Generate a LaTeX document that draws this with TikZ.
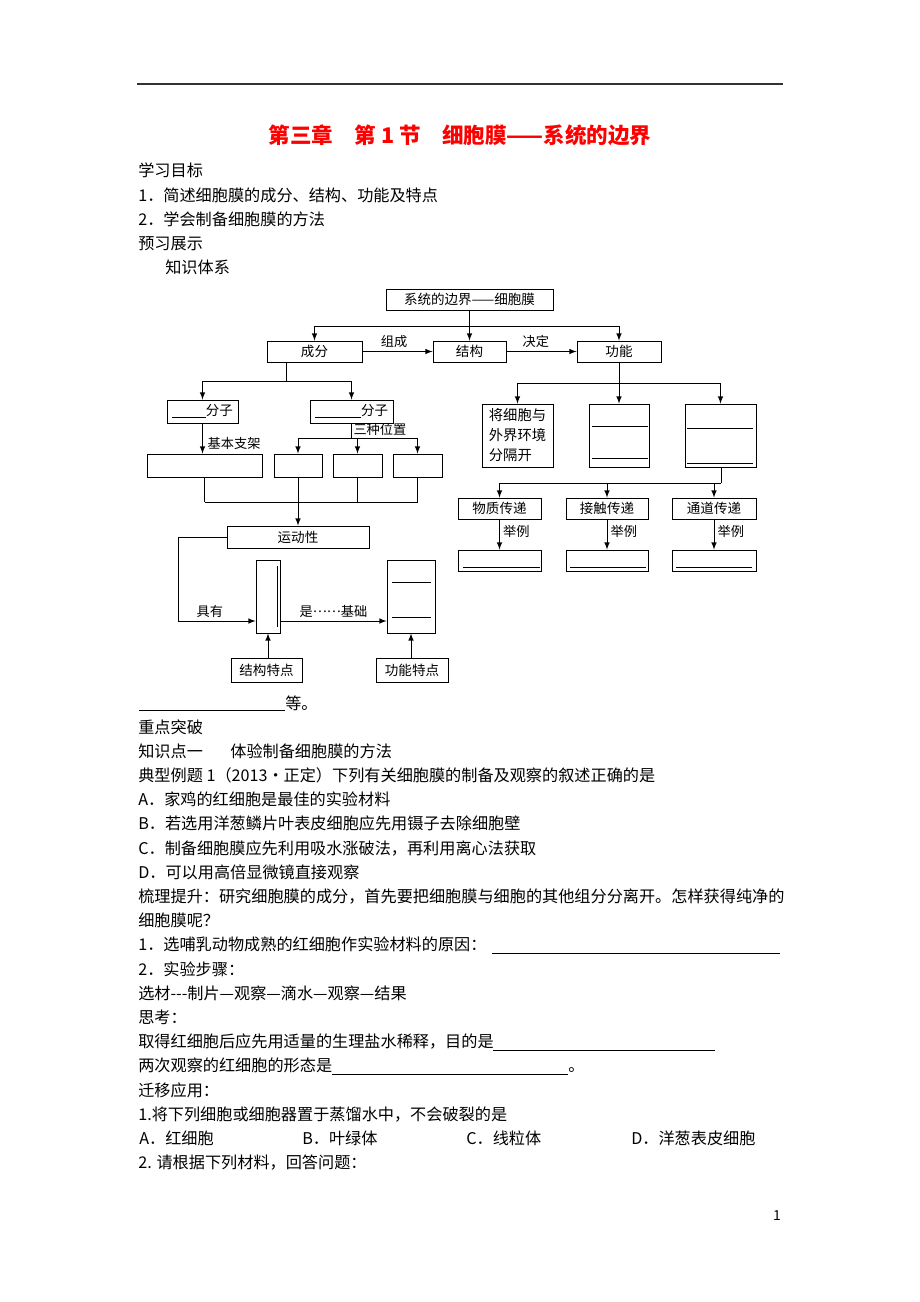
\documentclass[tikz,border=0pt]{standalone}
\usepackage{fontspec}
\setmainfont{Noto Sans CJK SC}
\usepackage{tikz}
\usetikzlibrary{arrows.meta,arrows}
\usetikzlibrary{positioning}

\def\pxu{0.65pt}
\tikzset{
  bx/.style n args={2}{draw, line width=0.6pt, inner sep=0pt,
    minimum width=#1*\pxu, minimum height=#2*\pxu,
    font=\fontsize{8.8}{10}\selectfont},
  ln/.style={line width=0.6pt},
  arr/.style={ln, arrows=-latex},
  txt/.style={anchor=base west, inner sep=0pt, font=\fontsize{10.5}{12}\selectfont},
  lbl/.style={inner sep=1pt, font=\fontsize{8.6}{10}\selectfont},
}

\begin{document}
\begin{tikzpicture}[x=0.65pt, y=-0.65pt]

% page
\useasboundingbox[fill=white] (0,0) rectangle (920,1302);

% header rule and title
\draw[line width=1pt, black!80] (137,84) -- (783,84);
\node[font=\fontsize{14}{16}\selectfont\bfseries, text=red] (title) at (460,135)
  {第三章　第 1 节　细胞膜——系统的边界};

\def \xL {138}

% aims
\node[txt] (aim)  at (\xL,176) {学习目标};
\node[txt] (aimA) at (\xL,201) {1．简述细胞膜的成分、结构、功能及特点};
\node[txt] (aimB) at (\xL,225) {2．学会制备细胞膜的方法};
\node[txt] (prev) at (\xL,249) {预习展示};
\node[txt] (sys)  at (165,273) {知识体系};

% top level boxes
\node[bx={167}{21}] (top) at (469.5,299.5) {系统的边界——细胞膜};
\node[bx={95}{21}] (cf) at (314.5,351.5) {成分};
\node[bx={73}{21}] (jg) at (469.5,351.5) {结构};
\node[bx={84}{21}] (gn) at (619,351.5) {功能};

%top bus
\coordinate (busA) at (0,326);
\draw[arr] (top.south) -- (jg.north);
\draw[ln] (busA -| cf) -- (busA -| gn);
\draw[arr] (busA -| cf) -- (cf.north);
\draw[arr] (busA -| gn) -- (gn.north);
\draw[arr] (cf) -- node[lbl, pos=0.45, above=1pt] {组成} (jg);
\draw[arr] (jg) -- node[lbl, pos=0.42, above=1pt] {决定} (gn);

% molecules
\node[bx={71}{23}] (fzL) at (202.5,411.5) {\rule[-1.5pt]{22pt}{0.5pt}分子};
\node[bx={83}{23}] (fzR) at (351.5,411.5) {\rule[-1.5pt]{30pt}{0.5pt}分子};

\coordinate (cfdn) at (286,381);
\draw[ln] (cfdn |- cf.south) -- (cfdn);
\draw[ln] (cfdn -| fzL) -- (cfdn -| fzR);
\draw[arr] (cfdn -| fzL) -- (fzL.north);
\draw[arr] (cfdn -| fzR) -- (fzR.north);

% frame and three positions
\node[bx={115}{23}] (bigL) at (204.5,465.5) {};
\node[bx={48}{23}] (pos1) at (298,465.5) {};
\node[bx={49}{23}] (pos2) at (357.5,465.5) {};
\node[bx={49}{23}] (pos3) at (417.5,465.5) {};

\draw[arr] (fzL.south) -- node[lbl, pos=0.65, right=2pt] {基本支架} (fzL.south |- bigL.north);

\coordinate (fzdn) at (352,438);
\draw[ln] (fzR.south) -- (fzR.south |- fzdn) node[lbl, anchor=south west] {三种位置};
\draw[ln] (fzdn -| pos1) -- (fzdn -| pos3);
\draw[arr] (fzdn -| pos1) -- (pos1.north);
\draw[arr] (fzdn -| pos2) -- (pos2.north);
\draw[arr] (fzdn -| pos3) -- (pos3.north);

% lower bus to fluidity
\node[bx={142}{22}] (ydx) at (298,537) {运动性};
\coordinate (busB) at (0,502);
\draw[ln] (bigL.south) -- (bigL.south |- busB);
\draw[ln] (pos2.south) -- (pos2.south |- busB);
\draw[ln] (pos3.south) -- (pos3.south |- busB);
\draw[ln] (bigL.south |- busB) -- (pos3.south |- busB);
\draw[arr] (pos1.south) -- (ydx.north);

% features
\node[bx={24}{73}] (jgans) at (268,596.5) {};
\node[bx={48}{73}] (gnans) at (411,596.5) {};
\node[bx={71}{24}] (jgtd) at (266.5,670) {结构特点};
\node[bx={72}{24}] (gntd) at (412,670) {功能特点};

\coordinate (hasY) at (178,621);
\draw[arr] (ydx.west) -| (hasY) -- node[lbl, pos=0.41, above=1pt] {具有} (hasY -| jgans.west);
\draw[arr] (jgans.east |- hasY) -- node[lbl, above=1pt] {是\raisebox{0.3em}{……}基础} (gnans.west |- hasY);
\draw[arr] (jgtd.north -| jgans) -- (jgans.south);
\draw[arr] (gntd.north -| gnans) -- (gnans.south);

%blank lines in answer boxes
\draw[ln] (277,566) -- (277,627);
\draw[ln] (392,582) -- (431,582);
\draw[ln] (392,617) -- (431,617);

% functions
\node[bx={71}{63}, align=left, font=\fontsize{9.3}{13}\selectfont] (sep) at (517.5,435.5)
  {将细胞与\\外界环境\\分隔开};
\node[bx={60}{63}] (fnB) at (619,435.5) {};
\node[bx={71}{63}] (fnC) at (720.5,435.5) {};

\coordinate (gndn) at (619,383);
\draw[ln] (gn.south) -- (gndn);
\draw[ln] (gndn -| sep) -- (gndn -| fnC);
\draw[arr] (gndn -| sep) -- (sep.north);
\draw[arr] (gndn) -- (fnB.north);
\draw[arr] (gndn -| fnC) -- (fnC.north);

\draw[ln] (592,426) -- (648,426);
\draw[ln] (592,458) -- (648,458);
\draw[ln] (687,428) -- (753,428);
\draw[ln] (687,463) -- (753,463);

% information exchange
\node[bx={83}{21}] (wz) at (499.5,508.5) {物质传递};
\node[bx={82}{21}] (jc) at (607,508.5) {接触传递};
\node[bx={84}{21}] (td) at (714,508.5) {通道传递};

\coordinate (fndn) at (721,483);
\draw[ln] (fnC.south -| fndn) -- (fndn);
\draw[ln] (fndn -| wz) -- (fndn);
\draw[arr] (fndn -| wz) -- (wz.north);
\draw[arr] (fndn -| jc) -- (jc.north);
\draw[arr] (fndn -| td) -- (td.north);

\node[bx={83}{21}] (wzEg) at (499.5,560.5) {};
\node[bx={82}{21}] (jcEg) at (607,560.5) {};
\node[bx={84}{21}] (tdEg) at (714,560.5) {};
\draw[arr] (wz) -- node[lbl, pos=0.4, right=1pt] {举例} (wzEg);
\draw[arr] (jc) -- node[lbl, pos=0.4, right=1pt] {举例} (jcEg);
\draw[arr] (td) -- node[lbl, pos=0.4, right=1pt] {举例} (tdEg);

\draw[ln] (463,567) -- (540,567);
\draw[ln] (570,567) -- (646,567);
\draw[ln] (676,567) -- (752,567);

% after the diagram
\draw[line width=0.5pt] (139,710) -- (285,710);
\node[txt] (etc) at (285,709) {等。};

\node[txt] (key)  at (\xL,733)   {重点突破};
\node[txt] (kp)   at (\xL,757.2) {知识点一\hspace{1.7em}体验制备细胞膜的方法};
\node[txt] (ex)   at (\xL,781.4) {典型例题 1（2013•正定）下列有关细胞膜的制备及观察的叙述正确的是};
\node[txt] (exA)  at (\xL,805.6) {A．家鸡的红细胞是最佳的实验材料};
\node[txt] (exB)  at (\xL,829.8) {B．若选用洋葱鳞片叶表皮细胞应先用镊子去除细胞壁};
\node[txt] (exC)  at (\xL,854)   {C．制备细胞膜应先利用吸水涨破法，再利用离心法获取};
\node[txt] (exD)  at (\xL,878.2) {D．可以用高倍显微镜直接观察};
\node[txt] (sum)  at (\xL,902.4) {梳理提升：研究细胞膜的成分，首先要把细胞膜与细胞的其他组分分离开。怎样获得纯净的};
\node[txt] (sumB) at (\xL,926.6) {细胞膜呢？};
\node[txt] (qA)   at (\xL,950.8) {1．选哺乳动物成熟的红细胞作实验材料的原因：};
\node[txt] (qB)   at (\xL,975)   {2．实验步骤：};
\node[txt] (step) at (\xL,999.2) {选材-{}-{}-制片—观察—滴水—观察—结果};
\node[txt] (thk)  at (\xL,1023.4) {思考：};
\node[txt] (thkA) at (\xL,1047.6) {取得红细胞后应先用适量的生理盐水稀释，目的是};
\node[txt] (thkB) at (\xL,1071.8) {两次观察的红细胞的形态是};
\node[txt] (thkE) at (568,1071.8) {。};
\node[txt] (app)  at (\xL,1096)  {迁移应用：};
\node[txt] (appA) at (\xL,1120.2) {1.将下列细胞或细胞器置于蒸馏水中，不会破裂的是};
\node[txt] (chA)  at (139,1144.4) {A．红细胞};
\node[txt] (chB)  at (302,1144.4) {B．叶绿体};
\node[txt] (chC)  at (466,1144.4) {C．线粒体};
\node[txt] (chD)  at (631,1144.4) {D．洋葱表皮细胞};
\node[txt] (appB) at (\xL,1168.6) {2. 请根据下列材料，回答问题：};

%answer lines
\draw[line width=0.5pt] (492,953) -- (780,953);
\draw[line width=0.5pt] (493,1050) -- (715,1050);
\draw[line width=0.5pt] (332,1074) -- (568,1074);

% page number
\node[font=\fontsize{9}{10}\selectfont] (pg) at (777,1216) {1};

\end{tikzpicture}
\end{document}
